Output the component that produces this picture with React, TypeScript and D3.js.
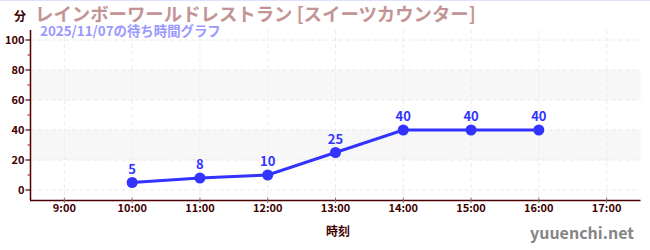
import React from "react";
import * as d3 from "d3";

const hours = [10, 11, 12, 13, 14, 15, 16];
const waits = [5, 8, 10, 25, 40, 40, 40];
const xTicks = [9, 10, 11, 12, 13, 14, 15, 16, 17];
const yTicks = [0, 20, 40, 60, 80, 100];
const yMinor = [10, 30, 50, 70, 90];
const bands = [[20, 40], [60, 80]];
const title = "レインボーワールドレストラン [スイーツカウンター]";
const subtitle = "2025/11/07の待ち時間グラフ";

const W = 650, H = 250;
const font = "'Noto Sans CJK JP', 'Noto Sans', sans-serif";

export default function App() {
  const x = d3.scaleLinear().domain([8.5, 17.5]).range([30.5, 640.5]);
  const y = d3.scaleLinear().domain([0, 100]).range([190, 40]);
  const yTop = 30, yBot = 200;
  const pts = hours.map((h, i) => [x(h), y(waits[i])] as [number, number]);
  const line = d3.line()(pts) || "";
  const axisColor = "#4d0000";
  return (
    <svg width={W} height={H} style={{ position: "absolute", left: 0, top: 0, fontFamily: font }}>
      <rect x={0} y={0} width={W} height={H} fill="#fff" />
      <line x1={0} x2={W} y1={0.5} y2={0.5} stroke="#e0e0ff" strokeWidth={1} />
      {bands.map((b, i) => (
        <rect key={i} x={x(8.5)} width={x(17.5) - x(8.5)} y={y(b[1])} height={y(b[0]) - y(b[1])} fill="#f7f7f7" />
      ))}
      {yTicks.map(t => (
        <line key={"gy" + t} x1={x(8.5)} x2={x(17.5)} y1={y(t)} y2={y(t)} stroke="#e8e8e8" strokeDasharray="4,3" />
      ))}
      {xTicks.map(t => (
        <line key={"gx" + t} x1={x(t)} x2={x(t)} y1={yTop} y2={yBot} stroke="#ececec" strokeDasharray="4,3" />
      ))}
      {/* y axis */}
      <line x1={30.5} x2={30.5} y1={yTop} y2={yBot} stroke={axisColor} strokeWidth={1.5} />
      {yTicks.map(t => (
        <g key={"yt" + t}>
          <line x1={25.5} x2={30.5} y1={y(t)} y2={y(t)} stroke={axisColor} strokeWidth={1.2} />
          <text x={24.5} y={y(t)} dy="0.35em" textAnchor="end" fontSize={11} fontWeight="bold" fill="#400000">{t}</text>
        </g>
      ))}
      {yMinor.map(t => (
        <line key={"ym" + t} x1={27.5} x2={30.5} y1={y(t)} y2={y(t)} stroke="#cc0000" strokeWidth={1} />
      ))}
      {/* x axis */}
      <line x1={30} x2={x(17.5)} y1={200.5} y2={200.5} stroke={axisColor} strokeWidth={1.5} />
      {xTicks.map(t => (
        <g key={"xt" + t}>
          <line x1={x(t)} x2={x(t)} y1={197.5} y2={203} stroke="#777" strokeWidth={1} />
          <text x={x(t)} y={211.5} textAnchor="middle" fontSize={11} fontWeight="bold" fill="#400000">{t}:00</text>
        </g>
      ))}
      {/* line */}
      <path d={line} fill="none" stroke="#3333ff" strokeWidth={3} />
      {pts.map((p, i) => (
        <g key={"p" + i}>
          <circle cx={p[0]} cy={p[1]} r={5.5} fill="#3333ff" />
          <text x={p[0]} y={p[1] - 9} textAnchor="middle" fontSize={13} fontWeight="bold" fill="#3333ff">{waits[i]}</text>
        </g>
      ))}
      {/* titles */}
      <text x={14} y={21} fontSize={12} fontWeight="bold" fill="#400000">分</text>
      <text x={35} y={21} fontSize={18.4} fontWeight="bold" fill="#c49494">{title}</text>
      <text x={40} y={36} fontSize={13.4} fontWeight="bold" fill="#9999ff">{subtitle}</text>
      <text x={338} y={236} textAnchor="middle" fontSize={12} fontWeight="bold" fill="#400000">時刻</text>
      <text x={634} y={239} textAnchor="end" fontSize={16} fontWeight="bold" fill="#858585">yuuenchi.net</text>
    </svg>
  );
}
